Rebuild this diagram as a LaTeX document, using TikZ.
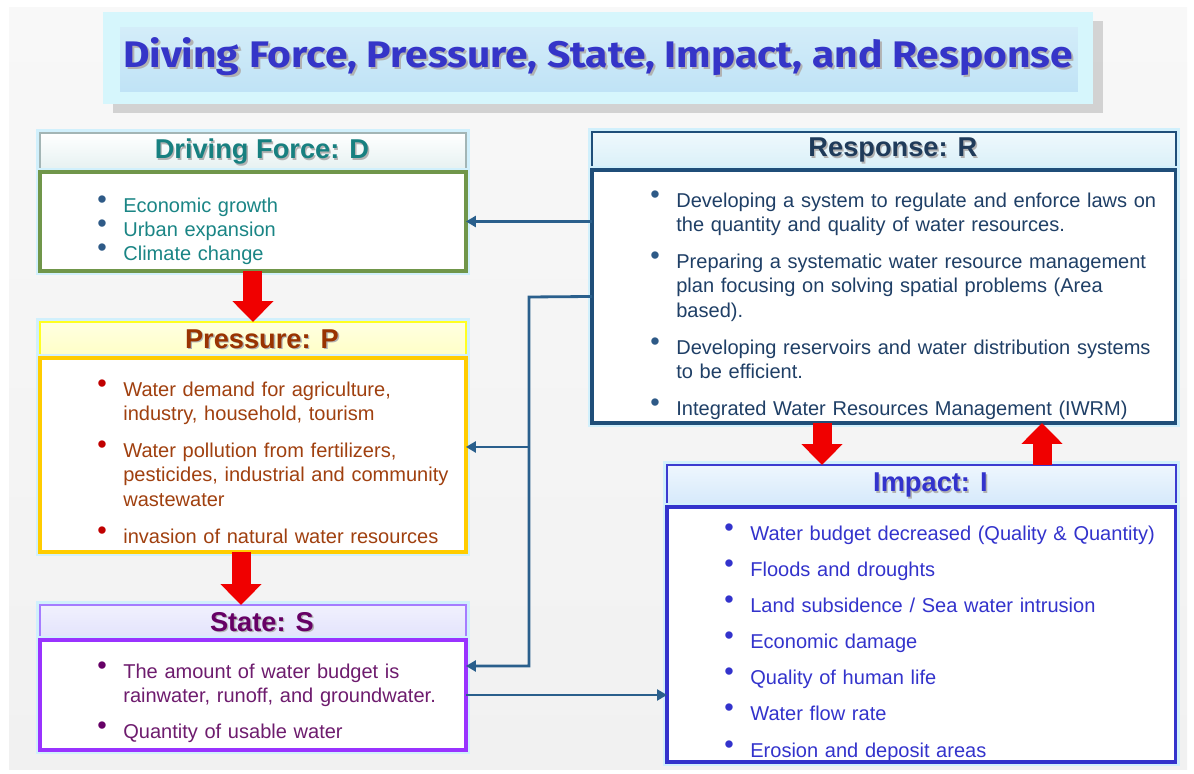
\documentclass[tikz,border=0pt]{standalone}
\usepackage{fontspec}
\setmainfont{Liberation Sans}
\newfontfamily\bannerfont{Fira Sans}
\usepackage{graphicx}
\usepackage{tikz}
\usetikzlibrary{arrows.meta, calc, positioning, shadows}
\usepackage{xcolor}

\definecolor{bgtop}{HTML}{F8F8F8}
\definecolor{bgbottom}{HTML}{F1F1F1}
\definecolor{bannerrim}{HTML}{D6F6FC}
\definecolor{bannertop}{HTML}{D8EFFA}
\definecolor{bannerbottom}{HTML}{BCE1F5}
\definecolor{bannerblue}{HTML}{3535C8}
\definecolor{dgreen}{HTML}{70964A}
\definecolor{dheadline}{HTML}{A3B5B5}
\definecolor{dheadfill}{HTML}{E4F0F0}
\definecolor{dteal}{HTML}{1A8585}
\definecolor{dtealhead}{HTML}{178080}
\definecolor{bulletblue}{HTML}{2E5A87}
\definecolor{pgold}{HTML}{FFCC00}
\definecolor{pheadline}{HTML}{FFFF22}
\definecolor{pheadfill}{HTML}{FFFFC4}
\definecolor{pbrown}{HTML}{993300}
\definecolor{ptext}{HTML}{A0400F}
\definecolor{pred}{HTML}{C00000}
\definecolor{spurple}{HTML}{9933FF}
\definecolor{sheadline}{HTML}{A57CFF}
\definecolor{sheadfill}{HTML}{E2E2FC}
\definecolor{splum}{HTML}{660066}
\definecolor{stext}{HTML}{6E1C6E}
\definecolor{rnavy}{HTML}{1F4E79}
\definecolor{rheadfill}{HTML}{D8EFF8}
\definecolor{rheadtext}{HTML}{1F3B5A}
\definecolor{rtext}{HTML}{1F3F66}
\definecolor{iblue}{HTML}{3333CC}
\definecolor{iheadline}{HTML}{3B3BD0}
\definecolor{iheadfill}{HTML}{D4E8FB}
\definecolor{wireblue}{HTML}{2A5F8C}
\definecolor{arrowred}{HTML}{F00000}

\newcommand{\shadowed}[2][0.8pt]{\makebox[0pt][l]{\hspace{#1}\raisebox{-#1}{\textcolor{black!30}{#2}}}#2}
\newcommand{\dpsitem}[2]{\noindent\llap{\raisebox{2.2pt}{\textcolor{#1}{\scalebox{1.35}{\textbullet}}}\hspace{0.33cm}}#2\par}

\begin{document}
\begin{tikzpicture}[x=0.02cm, y=-0.02cm,
  glow/.style={preaction={draw=cyan!18, line width=5pt}},
  head/.style={anchor=north west, inner sep=0pt, outer sep=0pt, line width=1.1pt, glow,
    font=\fontsize{15.5}{18}\selectfont\bfseries, execute at begin node=\hspace*{0.36cm}},
  body/.style={anchor=north west, inner sep=0pt, outer sep=0pt, line width=1.8pt, fill=white, glow},
  items/.style={anchor=base west, inner sep=0pt, text width=12cm, align=left,
    font=\fontsize{11.4}{13.9}\selectfont},
  banner/.style={inner sep=0pt, minimum width=19.8cm, minimum height=1.84cm, fill=bannerrim,
    drop shadow={shadow xshift=0.2cm, shadow yshift=-0.18cm, opacity=0.25, fill=black!60},
    path picture={\shade[top color=bannertop, bottom color=bannerbottom]
      ([shift={(0.34cm,-0.3cm)}]path picture bounding box.north west) rectangle
      ([shift={(-0.3cm,0.24cm)}]path picture bounding box.south east);}},
  bigarrow/.style={draw=arrowred, line width=0.38cm, -{Triangle[length=0.42cm,width=0.8cm]}},
  wire/.style={draw=wireblue, line width=1.6pt, -{Triangle[length=0.2cm,width=0.22cm]}}]

  \useasboundingbox (0,0) rectangle (1194,774);
  \fill[white] (0,0) rectangle (1194,774);
  \shade[top color=bgtop, bottom color=bgbottom] (9,7) rectangle (1187,769);

  % title
  \node[banner] (banner) at (598,58)
    {\resizebox{19cm}{0.6cm}{\bannerfont\bfseries\color{bannerblue}\shadowed[0.5pt]{Diving Force, Pressure, State, Impact, and Response}}};

  % headers
  \node[head, draw=dheadline, top color=white, bottom color=dheadfill, minimum width=8.52cm, minimum height=0.78cm, text=dtealhead] (dhead) at (40,133) {\shadowed{Driving Force: D}};
  \node[head, draw=pheadline, top color=pheadfill!50, bottom color=pheadfill, minimum width=8.52cm, minimum height=0.72cm, text=pbrown] (phead) at (40,322) {\shadowed{Pressure: P}};
  \node[head, draw=sheadline, top color=sheadfill!50, bottom color=sheadfill, minimum width=8.52cm, minimum height=0.70cm, text=splum] (shead) at (40,605) {\shadowed{State: S}};
  \node[head, draw=rnavy, top color=rheadfill!40, bottom color=rheadfill, minimum width=11.68cm, minimum height=0.76cm, text=rheadtext] (rhead) at (592,132) {\shadowed{Response: R}};
  \node[head, draw=iheadline, top color=iheadfill!40, bottom color=iheadfill, minimum width=10.18cm, minimum height=0.84cm, text=iblue] (ihead) at (667,465) {\shadowed{Impact: I}};

  % bodies
  \node[body, draw=dgreen, minimum width=8.52cm, minimum height=1.98cm] (dbody) at (40,172) {};
  \node[body, draw=pgold, minimum width=8.52cm, minimum height=3.88cm] (pbody) at (40,358) {};
  \node[body, draw=spurple, minimum width=8.52cm, minimum height=2.20cm] (sbody) at (40,640) {};
  \node[body, draw=rnavy, minimum width=11.68cm, minimum height=5.06cm] (rbody) at (592,170) {};
  \node[body, draw=iblue, minimum width=10.18cm, minimum height=5.10cm] (ibody) at (667,507) {};

  % lists
  \node[items, text=dteal] (dlist) at (123,212) {%
    \dpsitem{bulletblue}{Economic growth}
    \dpsitem{bulletblue}{Urban expansion}
    \dpsitem{bulletblue}{Climate change}};
  \node[items, text=ptext] (plist) at (123,396) {%
    \dpsitem{pred}{Water demand for agriculture,\newline industry, household, tourism}
    \vspace{0.25cm}
    \dpsitem{pred}{Water pollution from fertilizers,\newline pesticides, industrial and community\newline wastewater}
    \vspace{0.25cm}
    \dpsitem{pred}{invasion of natural water resources}};
  \node[items, text=stext] (slist) at (123,678) {%
    \dpsitem{splum}{The amount of water budget is\newline rainwater, runoff, and groundwater.}
    \vspace{0.23cm}
    \dpsitem{splum}{Quantity of usable water}};
  \node[items, text=rtext] (rlist) at (676,207) {%
    \dpsitem{bulletblue}{Developing a system to regulate and enforce laws on\newline the quantity and quality of water resources.}
    \vspace{0.25cm}
    \dpsitem{bulletblue}{Preparing a systematic water resource management\newline plan focusing on solving spatial problems (Area\newline based).}
    \vspace{0.25cm}
    \dpsitem{bulletblue}{Developing reservoirs and water distribution systems\newline to be efficient.}
    \vspace{0.25cm}
    \dpsitem{bulletblue}{Integrated Water Resources Management (IWRM)}};
  \node[items, text=iblue] (ilist) at (750,540) {%
    \dpsitem{iblue}{Water budget decreased (Quality \& Quantity)}
    \vspace{0.235cm}
    \dpsitem{iblue}{Floods and droughts}
    \vspace{0.235cm}
    \dpsitem{iblue}{Land subsidence / Sea water intrusion}
    \vspace{0.235cm}
    \dpsitem{iblue}{Economic damage}
    \vspace{0.235cm}
    \dpsitem{iblue}{Quality of human life}
    \vspace{0.235cm}
    \dpsitem{iblue}{Water flow rate}
    \vspace{0.235cm}
    \dpsitem{iblue}{Erosion and deposit areas}};

  % red block arrows
  \coordinate (psx) at (241,0);
  \coordinate (rix) at (822,0);
  \coordinate (irx) at (1042,0);
  \draw[bigarrow] (dbody.south) -- (phead.north);
  \draw[bigarrow] (psx |- pbody.south) -- (psx |- shead.north);
  \draw[bigarrow] (rix |- rbody.south) -- (rix |- ihead.north);
  \draw[bigarrow] (irx |- ihead.north) -- (irx |- rbody.south);

  % blue connectors
  \coordinate (split) at (529,297);
  \coordinate (pin) at ([yshift=0.16cm]pbody.east);
  \coordinate (sin) at ([yshift=0.58cm]sbody.east);
  \draw[wire] (rbody.west |- dbody.east) -- (dbody.east);
  \draw[wire] (rbody.west) -- (split) |- (sin);
  \draw[wire] (pin -| split) -- (pin);
  \draw[wire] (sbody.east) -- (sbody.east -| ibody.west);
\end{tikzpicture}
\end{document}
